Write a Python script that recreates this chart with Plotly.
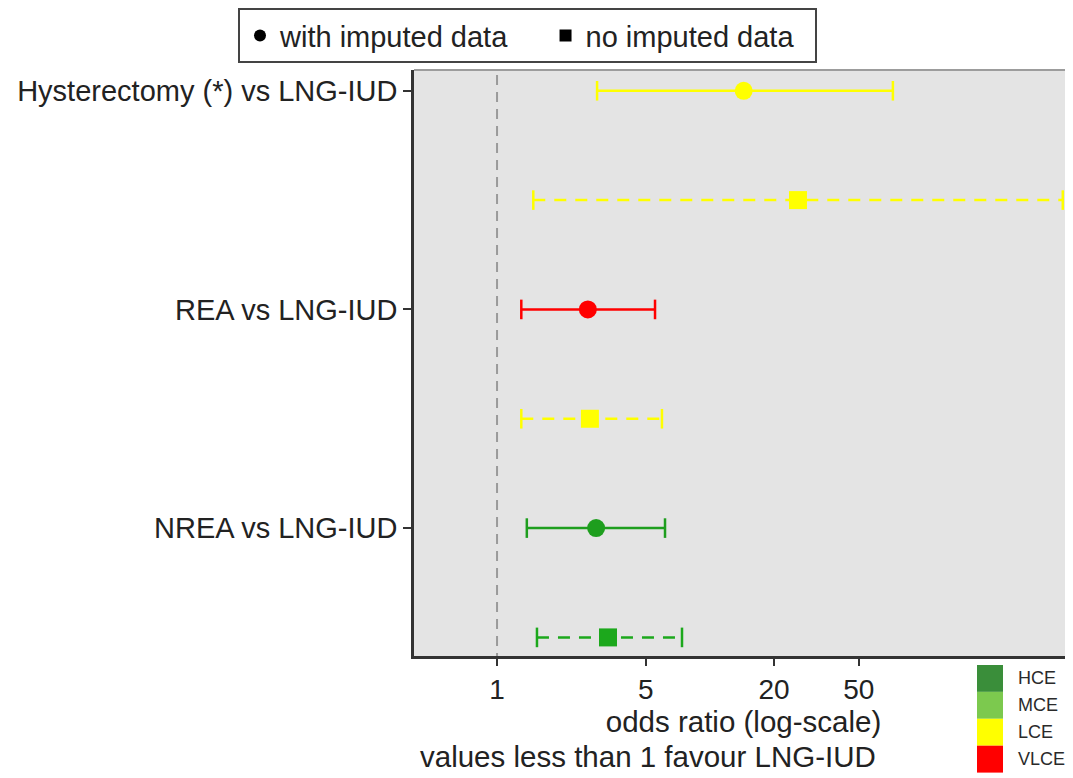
import plotly.graph_objects as go

# ---- data ----
row_labels = ["Hysterectomy (*) vs LNG-IUD", "", "REA vs LNG-IUD", "", "NREA vs LNG-IUD", ""]
odds_ratio = [14.4, 25.9, 2.67, 2.73, 2.92, 3.32]
ci_low = [2.95, 1.48, 1.30, 1.30, 1.38, 1.54]
ci_high = [72.3, 454.0, 5.52, 5.95, 6.15, 7.39]
imputed = [True, False, True, False, True, False]
row_colors = ["#FFFF00", "#FFFF00", "#FF0000", "#FFFF00", "#1E9E1E", "#1CA81C"]
x_ticks = [1, 5, 20, 50]
cert_labels = ["HCE", "MCE", "LCE", "VLCE"]
cert_colors = ["#3A8E3A", "#7CC94E", "#FFFF00", "#FF0000"]

FONT = "Liberation Sans, Arial, sans-serif"
OFF = 8  # page body offset
W, H = 1073 - OFF, 778 - OFF
PL, PT, PB = 414, 68, 656   # target window pixels of the plot panel
ML, MT = PL - OFF, PT - OFF
MB = H - (PB - OFF)
MR = 0

fig = go.Figure()

# reference line at OR = 1
fig.add_trace(go.Scatter(x=[1, 1], y=[-0.3, 5.3], mode="lines",
                         line=dict(color="#9A9A9A", width=2, dash="10px,7px"),
                         showlegend=False, hoverinfo="skip"))

for i in range(len(odds_ratio)):
    col = row_colors[i]
    dash = "solid" if imputed[i] else "12px,9px"
    fig.add_trace(go.Scatter(x=[ci_low[i], ci_high[i]], y=[i, i], mode="lines",
                             line=dict(color=col, width=2.5, dash=dash),
                             showlegend=False, hoverinfo="skip"))
    fig.add_trace(go.Scatter(x=[ci_low[i], ci_high[i]], y=[i, i], mode="markers",
                             marker=dict(symbol="line-ns", size=14,
                                         line=dict(color=col, width=2.5)),
                             showlegend=False, hoverinfo="skip"))
    fig.add_trace(go.Scatter(x=[odds_ratio[i]], y=[i], mode="markers",
                             marker=dict(symbol="circle" if imputed[i] else "square",
                                         size=18, color=col),
                             showlegend=False))

# legend entries
NBSP = "\u00a0"
fig.add_trace(go.Scatter(x=[None], y=[None], mode="markers",
                         name="with imputed data" + NBSP * 4,
                         marker=dict(symbol="circle", size=15, color="black")))
fig.add_trace(go.Scatter(x=[None], y=[None], mode="markers",
                         name="no imputed data" + NBSP * 2,
                         marker=dict(symbol="square", size=15, color="black")))

def py(p):
    return (PB - p) / (PB - PT)

def px(p):
    return (p - PL) / (1073 - PL)

shapes = [dict(type="line", xref="paper", yref="paper", x0=0, x1=1, y0=1, y1=1,
               line=dict(color="#9C9C9C", width=2))]
annotations = []
tops = [665, 692, 719, 746]
for k, lab in enumerate(cert_labels):
    shapes.append(dict(type="rect", xref="paper", yref="paper",
                       x0=px(977), x1=px(1003), y0=py(tops[k]), y1=py(tops[k] + 27),
                       fillcolor=cert_colors[k], line=dict(width=0)))
    annotations.append(dict(xref="paper", yref="paper", x=px(1016), y=py(tops[k] + 13.5),
                            text=lab, showarrow=False, xanchor="left", yanchor="middle",
                            font=dict(family=FONT, size=18, color="#2A2A2A")))

annotations.append(dict(xref="paper", yref="paper", x=px(418), y=py(757),
                        text="values less than 1 favour LNG-IUD", showarrow=False,
                        xanchor="left", yanchor="middle",
                        font=dict(family=FONT, size=29.5, color="#222222")))

fig.update_layout(
    width=W, height=H,
    margin=dict(l=ML, r=MR, t=MT, b=MB, pad=0),
    paper_bgcolor="white", plot_bgcolor="#E4E4E4",
    font=dict(family=FONT, size=28, color="#222222"),
    showlegend=True,
    legend=dict(orientation="h", x=px(238), y=py(6), xanchor="left", yanchor="top",
                bordercolor="#444444", borderwidth=2, bgcolor="white",
                font=dict(family=FONT, size=29, color="#222222"),
                itemsizing="constant"),
    xaxis=dict(type="log", range=[-0.39, 2.705], tickvals=x_ticks,
               ticktext=[str(t) for t in x_ticks], showgrid=False, zeroline=False,
               showline=True, linecolor="#333333", linewidth=2.5,
               ticks="outside", ticklen=7, tickwidth=2, tickcolor="#333333",
               tickfont=dict(family=FONT, size=28, color="#222222"),
               title=dict(text="odds ratio (log-scale)", standoff=0,
                          font=dict(family=FONT, size=29.5, color="#222222")),
               automargin=False),
    yaxis=dict(range=[5.17, -0.19], tickvals=[0, 2, 4],
               ticktext=[row_labels[0], row_labels[2], row_labels[4]],
               showgrid=False, zeroline=False, showline=True, linecolor="#333333",
               linewidth=2.5, ticks="outside", ticklen=8, tickwidth=2, tickcolor="#333333",
               tickfont=dict(family=FONT, size=29, color="#222222"),
               automargin=False),
    shapes=shapes, annotations=annotations,
)

fig.write_html("out.html")
